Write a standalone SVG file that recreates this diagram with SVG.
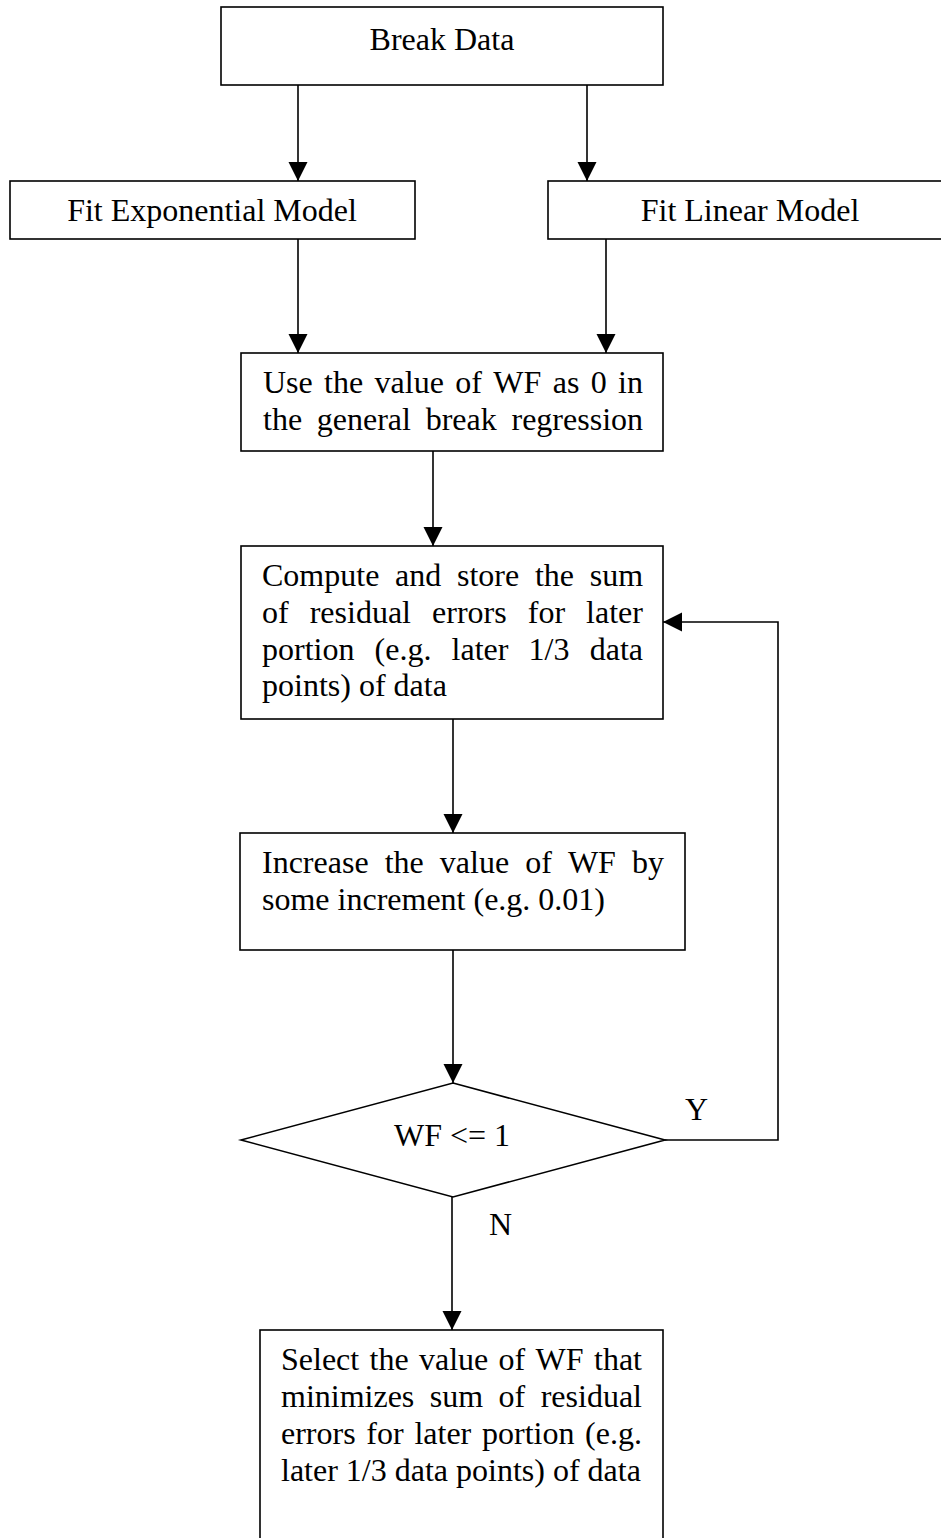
<svg xmlns="http://www.w3.org/2000/svg" width="941" height="1538" viewBox="0 0 941 1538">
<style>
.box{fill:#fff;stroke:#000;stroke-width:1.6}
.t{font-family:"Liberation Serif","Times New Roman",serif;font-size:32px;fill:#000}
.c{text-anchor:middle}
.ln{fill:none;stroke:#000;stroke-width:1.6}
</style>
<defs>
<marker id="ah" markerUnits="userSpaceOnUse" markerWidth="20" markerHeight="20" refX="19" refY="9.5" orient="auto" viewBox="0 0 20 20">
<path d="M0,0 L19,9.5 L0,19 Z" fill="#000"/>
</marker>
</defs>
<rect width="941" height="1538" fill="#fff"/>
<g id="connectors">
<path class="ln" d="M298,85 L298,181" marker-end="url(#ah)"/>
<path class="ln" d="M587,85 L587,181" marker-end="url(#ah)"/>
<path class="ln" d="M298,239 L298,353" marker-end="url(#ah)"/>
<path class="ln" d="M606,239 L606,353" marker-end="url(#ah)"/>
<path class="ln" d="M433,451 L433,546" marker-end="url(#ah)"/>
<path class="ln" d="M453,719 L453,833" marker-end="url(#ah)"/>
<path class="ln" d="M453,950 L453,1083" marker-end="url(#ah)"/>
<path class="ln" d="M452,1197 L452,1330" marker-end="url(#ah)"/>
<path class="ln" d="M665,1140 L778,1140 L778,622 L663,622" marker-end="url(#ah)"/>
<text class="t" x="685" y="1120">Y</text>
<text class="t" x="489" y="1235">N</text>
</g>
<g id="break-data">
<rect class="box" x="221" y="7" width="442" height="78"/>
<text class="t c" x="442" y="50">Break Data</text>
</g>
<g id="fit-exponential">
<rect class="box" x="10" y="181" width="405" height="58"/>
<text class="t c" x="212" y="221">Fit Exponential Model</text>
</g>
<g id="fit-linear">
<rect class="box" x="548" y="181" width="404" height="58"/>
<text class="t c" x="750" y="221">Fit Linear Model</text>
</g>
<g id="use-wf-zero">
<rect class="box" x="241" y="353" width="422" height="98"/>
<text class="t" y="393"><tspan x="263">Use</tspan><tspan x="324.1">the</tspan><tspan x="374.6">value</tspan><tspan x="455.3">of</tspan><tspan x="493.3">WF</tspan><tspan x="552.7">as</tspan><tspan x="590.7">0</tspan><tspan x="618.1">in</tspan></text>
<text class="t" y="430"><tspan x="263">the</tspan><tspan x="316.8">general</tspan><tspan x="425.7">break</tspan><tspan x="511.5">regression</tspan></text>
</g>
<g id="compute-store">
<rect class="box" x="241" y="546" width="422" height="173"/>
<text class="t" y="586"><tspan x="262">Compute</tspan><tspan x="395">and</tspan><tspan x="457">store</tspan><tspan x="534.9">the</tspan><tspan x="589.7">sum</tspan></text>
<text class="t" y="623"><tspan x="262">of</tspan><tspan x="309.7">residual</tspan><tspan x="432.1">errors</tspan><tspan x="527.8">for</tspan><tspan x="586.1">later</tspan></text>
<text class="t" y="659.5"><tspan x="262">portion</tspan><tspan x="374.6">(e.g.</tspan><tspan x="451.6">later</tspan><tspan x="528.6">1/3</tspan><tspan x="589.7">data</tspan></text>
<text class="t" x="262" y="696">points) of data</text>
</g>
<g id="increase-wf">
<rect class="box" x="240" y="833" width="445" height="117"/>
<text class="t" y="873"><tspan x="262">Increase</tspan><tspan x="384.7">the</tspan><tspan x="439.8">value</tspan><tspan x="525.2">of</tspan><tspan x="567.9">WF</tspan><tspan x="632">by</tspan></text>
<text class="t" x="262" y="910">some increment (e.g. 0.01)</text>
</g>
<g id="decision">
<polygon class="box" points="453,1083 665,1140 453,1197 241,1140"/>
<text class="t c" x="452" y="1146">WF &lt;= 1</text>
</g>
<g id="select-wf">
<rect class="box" x="260" y="1330" width="403" height="220"/>
<text class="t" y="1370"><tspan x="281">Select</tspan><tspan x="369.5">the</tspan><tspan x="419">value</tspan><tspan x="498.6">of</tspan><tspan x="535.6">WF</tspan><tspan x="594">that</tspan></text>
<text class="t" y="1407"><tspan x="281">minimizes</tspan><tspan x="429.8">sum</tspan><tspan x="498.6">of</tspan><tspan x="540.7">residual</tspan></text>
<text class="t" y="1444"><tspan x="281">errors</tspan><tspan x="366.3">for</tspan><tspan x="414.4">later</tspan><tspan x="482">portion</tspan><tspan x="585.1">(e.g.</tspan></text>
<text class="t" x="281" y="1481">later 1/3 data points) of data</text>
</g>
</svg>
